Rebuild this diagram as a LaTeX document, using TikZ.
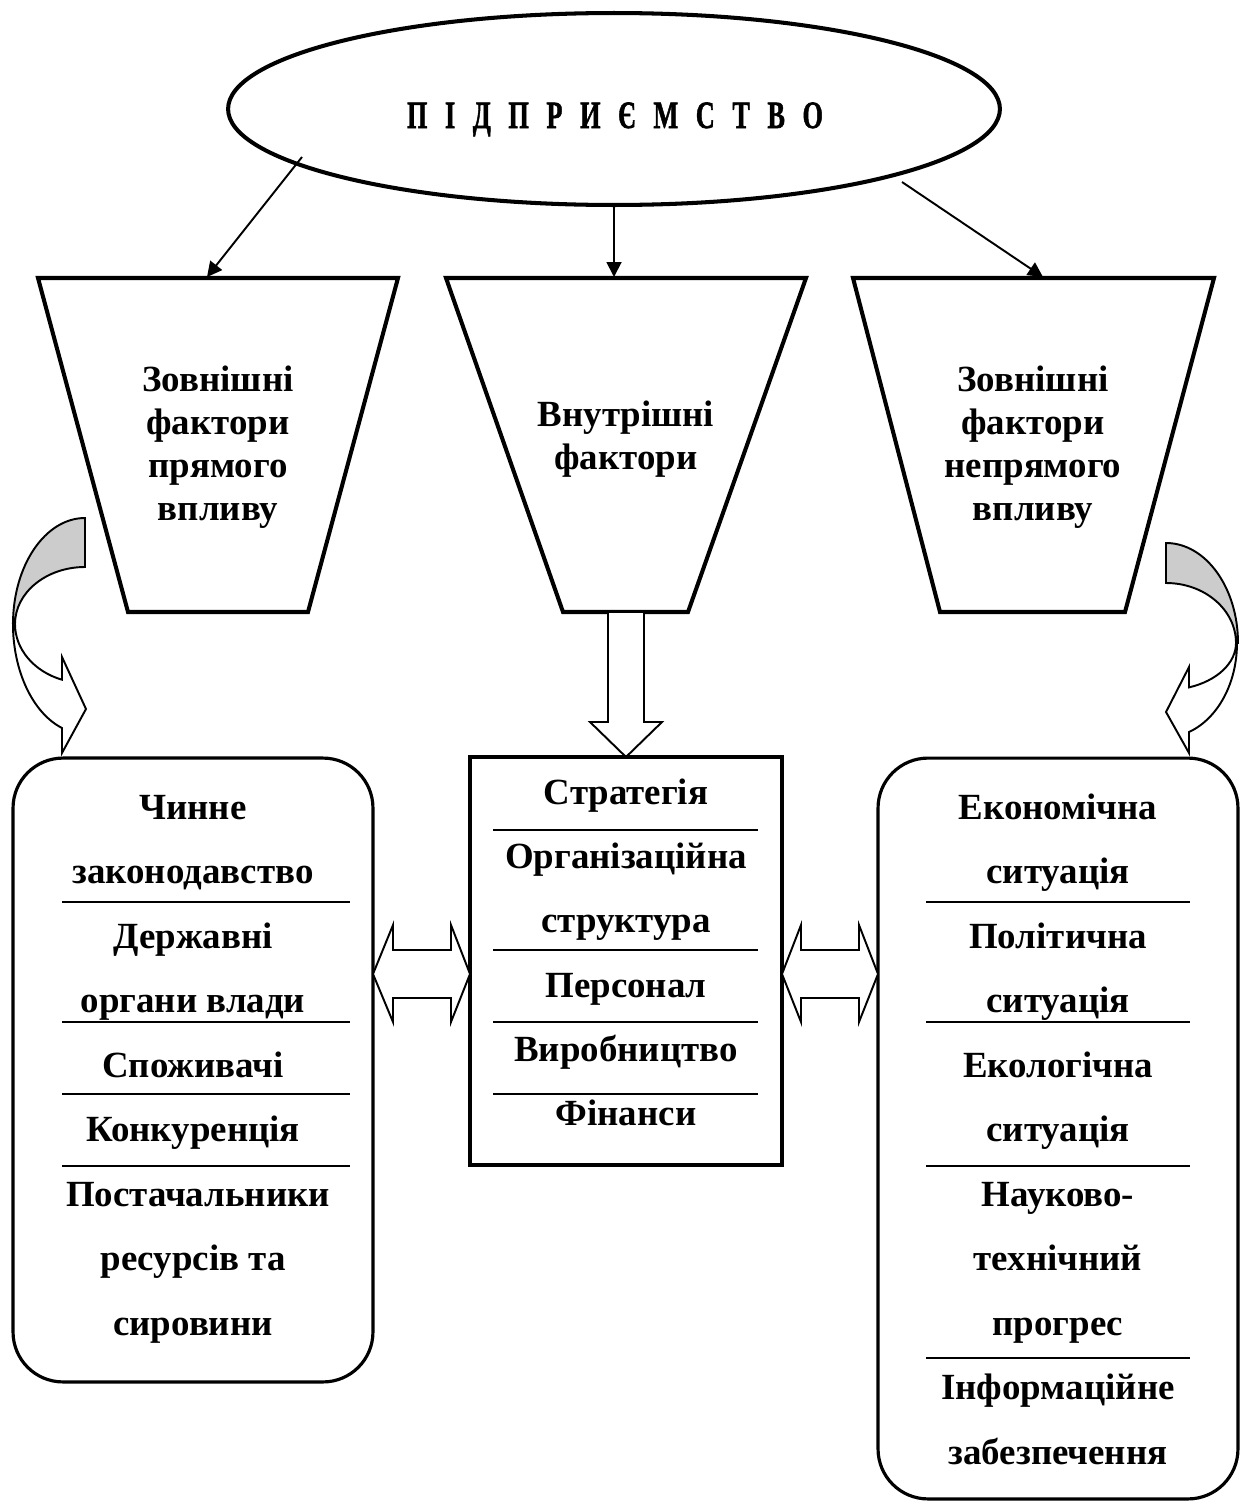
\documentclass[tikz,border=0pt]{standalone}
\usepackage{fontspec}
\setmainfont{Liberation Serif}
\newfontfamily\entfont[BoldFeatures={FakeBold=1.6}]{Liberation Serif}
\usetikzlibrary{shapes.geometric,arrows.meta}
\tikzset{
  lbl/.style={font=\fontsize{21}{25}\selectfont\bfseries, anchor=base, inner sep=0pt},
  sepline/.style={line width=1.1pt},
  frame/.style={draw, line width=1.8pt, inner sep=0pt, fill=white},
  trap/.style={line width=2.3pt, line join=miter},
  blockarrow/.style={line width=1.1pt, fill=white, line join=miter},
  conn/.style={line width=1.1pt, -{Triangle[length=8.5pt,width=8.5pt]}},
  curv/.style={line width=1.1pt, line join=miter},
}
\newcommand{\lsp}{\hspace{14.7pt}}
\begin{document}
\begin{tikzpicture}[x=0.02cm,y=-0.02cm]
\path[use as bounding box] (0,0) rectangle (1251,1501);

% enterprise ellipse
\node[draw, ellipse, line width=2.3pt, minimum width=15.44cm, minimum height=3.84cm, inner sep=0pt] (ent) at (614,109) {};
\node[anchor=base, inner sep=0pt, font=\entfont\fontsize{22}{26}\selectfont\bfseries] (enttext) at (615,128)
  {\scalebox{0.68}[1]{П\lsp І\lsp Д\lsp П\lsp Р\lsp И\lsp Є\lsp М\lsp С\lsp Т\lsp В\lsp О}};

% trapezoids
\draw[trap] (38,278) -- (398,278) -- (308,612) -- (128,612) -- cycle;
\draw[trap] (446,278) -- (806,278) -- (688,612) -- (563,612) -- cycle;
\draw[trap] (853,278) -- (1214,278) -- (1125,612) -- (940,612) -- cycle;
\coordinate (tz1) at (207,277);
\coordinate (tz2) at (614,277);
\coordinate (tz3) at (1043,277);
\coordinate (s1) at (302,157);
\coordinate (s3) at (902,182);

% connectors from ellipse
\draw[conn] (s1) -- (tz1);
\draw[conn] (ent.south) -- (tz2);
\draw[conn] (s3) -- (tz3);

% trapezoid texts
\node[lbl] (t1a) at (218,391) {Зовнішні};
\node[lbl] (t1b) at (218,434) {фактори};
\node[lbl] (t1c) at (218,477) {прямого};
\node[lbl] (t1d) at (218,520) {впливу};
\node[lbl] (t2a) at (626,426) {Внутрішні};
\node[lbl] (t2b) at (626,469) {фактори};
\node[lbl] (t3a) at (1033,391) {Зовнішні};
\node[lbl] (t3b) at (1033,434) {фактори};
\node[lbl] (t3c) at (1033,477) {непрямого};
\node[lbl] (t3d) at (1033,520) {впливу};

% middle block arrow
\filldraw[blockarrow] (608,613) -- (608,722) -- (590,722) -- (626,757) -- (662,722) -- (644,722) -- (644,613);

% left curved arrow
\filldraw[curv, fill=gray!40] (85,518) arc[start angle=-90, end angle=-180, x radius=72, y radius=106]
  -- (15,624) arc[start angle=180, end angle=270, x radius=70, y radius=57] -- cycle;
\filldraw[curv, fill=white] (15,624) arc[start angle=180, end angle=109.2, x radius=70, y radius=59]
  -- (62,657) -- (86,709) -- (62,753) -- (62,728)
  arc[start angle=108.6, end angle=180, x radius=72, y radius=110] -- cycle;

% right curved arrow
\filldraw[curv, fill=gray!40] (1166,543) arc[start angle=-90, end angle=0, x radius=72, y radius=100]
  -- (1236,643) arc[start angle=0, end angle=-90, x radius=70, y radius=60] -- cycle;
\filldraw[curv, fill=white] (1236,643) arc[start angle=0, end angle=70.8, x radius=70, y radius=47]
  -- (1189,667) -- (1166,712) -- (1189,753) -- (1189,732)
  arc[start angle=70.5, end angle=0, x radius=72, y radius=94] -- cycle;

% boxes
\node[frame, rounded corners=1cm, minimum width=7.2cm, minimum height=12.48cm] (lb) at (193,1070) {};
\node[frame, minimum width=6.24cm, minimum height=8.16cm] (mb) at (626,961) {};
\node[frame, rounded corners=1cm, minimum width=7.2cm, minimum height=14.82cm] (rb) at (1058,1128.5) {};

% double arrows
\filldraw[blockarrow] (373,974) -- (393,925) -- (393,950) -- (451,950) -- (451,925) -- (470,974)
  -- (451,1022) -- (451,998) -- (393,998) -- (393,1022) -- cycle;
\filldraw[blockarrow] (782,974) -- (801,925) -- (801,950) -- (859,950) -- (859,925) -- (878,974)
  -- (859,1022) -- (859,998) -- (801,998) -- (801,1022) -- cycle;

% left box content
\node[lbl] (l0) at (193,819) {Чинне};
\node[lbl] (l1) at (193,883.5) {законодавство};
\draw[sepline] (62,902) -- (350,902);
\node[lbl] (l2) at (193,948) {Державні};
\node[lbl] (l3) at (193,1012.5) {органи влади};
\draw[sepline] (62,1022) -- (350,1022);
\node[lbl] (l4) at (193,1077) {Споживачі};
\draw[sepline] (62,1094) -- (350,1094);
\node[lbl] (l5) at (193,1141.5) {Конкуренція};
\draw[sepline] (62,1166) -- (350,1166);
\node[lbl] (l6) at (198,1206) {Постачальники};
\node[lbl] (l7) at (193,1270.5) {ресурсів та};
\node[lbl] (l8) at (193,1335) {сировини};

% middle box content
\node[lbl] (m0) at (626,804) {Стратегія};
\draw[sepline] (493,830) -- (758,830);
\node[lbl] (m1) at (626,868.3) {Організаційна};
\node[lbl] (m2) at (626,932.6) {структура};
\draw[sepline] (493,950) -- (758,950);
\node[lbl] (m3) at (626,997) {Персонал};
\draw[sepline] (493,1022) -- (758,1022);
\node[lbl] (m4) at (626,1061.2) {Виробництво};
\draw[sepline] (493,1094) -- (758,1094);
\node[lbl] (m5) at (626,1125.5) {Фінанси};

% right box content
\node[lbl] (r0) at (1058,819) {Економічна};
\node[lbl] (r1) at (1058,883.5) {ситуація};
\draw[sepline] (926,902) -- (1190,902);
\node[lbl] (r2) at (1058,948) {Політична};
\node[lbl] (r3) at (1058,1012.5) {ситуація};
\draw[sepline] (926,1022) -- (1190,1022);
\node[lbl] (r4) at (1058,1077) {Екологічна};
\node[lbl] (r5) at (1058,1141.5) {ситуація};
\draw[sepline] (926,1166) -- (1190,1166);
\node[lbl] (r6) at (1058,1206) {Науково-};
\node[lbl] (r7) at (1058,1270.5) {технічний};
\node[lbl] (r8) at (1058,1335) {прогрес};
\draw[sepline] (926,1358) -- (1190,1358);
\node[lbl] (r9) at (1058,1399.5) {Інформаційне};
\node[lbl] (r10) at (1058,1464) {забезпечення};
\end{tikzpicture}
\end{document}
